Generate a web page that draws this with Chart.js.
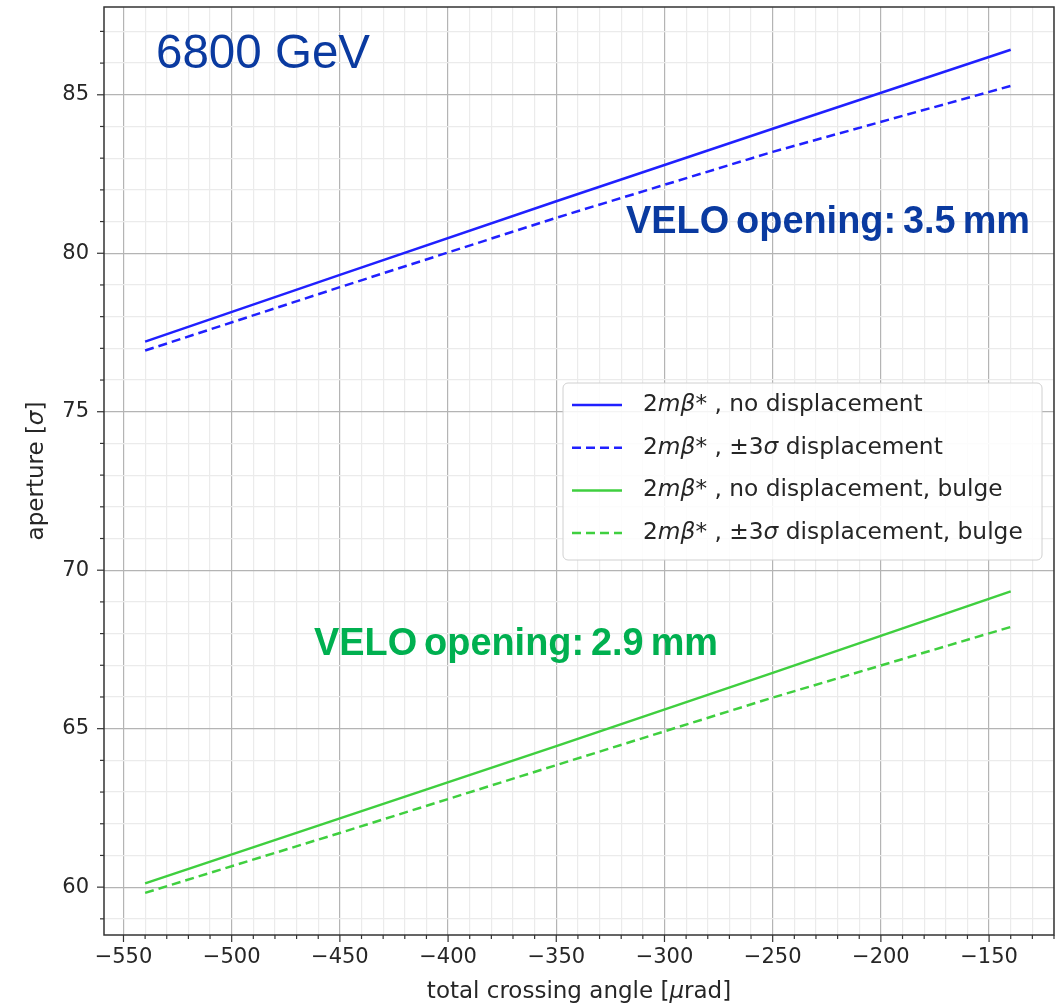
<!DOCTYPE html>
<html>
<head>
<meta charset="utf-8">
<script src="https://cdn.jsdelivr.net/npm/chart.js@4.4.1/dist/chart.umd.min.js"></script>
<style>
  html, body { margin: 0; padding: 0; background: #ffffff; }
  #wrap { width: 1064px; height: 1006px; }
</style>
</head>
<body>
<div id="wrap"><canvas id="c" width="1064" height="1006"></canvas></div>
<script>
// Total crossing angle [µrad] at which the aperture was read
const crossingAngle = [-540, -450, -350, -250, -140];

// Aperture [sigma] for each configuration
const apNoDisp        = [77.21, 79.32, 81.64, 83.93, 86.42];
const apDisp          = [76.93, 78.93, 81.12, 83.20, 85.28];
const apNoDispBulge   = [60.12, 62.17, 64.45, 66.76, 69.33];
const apDispBulge     = [59.82, 61.71, 63.85, 65.98, 68.21];

// Legend labels: [text, italic] pieces (mathtext style)
const labelNoDisp      = [['2', 0], ['mβ', 1], ['* , no displacement', 0]];
const labelDisp        = [['2', 0], ['mβ', 1], ['* , ±3', 0], ['σ', 1], [' displacement', 0]];
const labelNoDispBulge = [['2', 0], ['mβ', 1], ['* , no displacement, bulge', 0]];
const labelDispBulge   = [['2', 0], ['mβ', 1], ['* , ±3', 0], ['σ', 1], [' displacement, bulge', 0]];

// Axis ranges and tick steps
const xMin = -559, xMax = -120;
const yMin = 58.49, yMax = 87.77;
const xMajorStep = 50, xMinorStep = 10;
const yMajorStep = 5,  yMinorStep = 1;

const energyLabel = '6800 GeV';
const veloWide = 'VELO opening: 3.5 mm';
const veloNarrow = 'VELO opening: 2.9 mm';

const BLUE = '#2020ff';
const GREEN = '#3fcf3f';
const FONT = '"DejaVu Sans", "Liberation Sans", sans-serif';
const TXT = '#262626';

function joinParts(parts) { return parts.map(p => p[0]).join(''); }
function fmtTick(v) { return v < 0 ? '\u2212' + Math.abs(v) : String(v); }
function isMult(v, s) { return Math.abs(v / s - Math.round(v / s)) < 1e-6; }

function tickValues(lo, hi, step) {
  const out = [];
  const start = Math.ceil(lo / step - 1e-9) * step;
  for (let v = start; v <= hi + 1e-9; v += step) out.push(Math.round(v * 1000) / 1000);
  return out;
}

function partsWidth(ctx, parts, size) {
  let w = 0;
  parts.forEach(([t, it]) => { ctx.font = (it ? 'italic ' : '') + size + 'px ' + FONT; w += ctx.measureText(t).width; });
  return w;
}

function drawParts(ctx, parts, x, y, size) {
  let cx = x;
  parts.forEach(([t, it]) => {
    ctx.font = (it ? 'italic ' : '') + size + 'px ' + FONT;
    ctx.fillText(t, cx, y);
    cx += ctx.measureText(t).width;
  });
  return cx;
}

// Text fitted to a given width; words are set with a tight gap
function fittedText(ctx, text, x, y, width, font, color, wordGap) {
  ctx.save();
  ctx.font = font;
  ctx.fillStyle = color;
  ctx.textBaseline = 'alphabetic';
  ctx.textAlign = 'left';
  const words = text.split(' ');
  const gap = wordGap === undefined ? ctx.measureText(' ').width : wordGap;
  const widths = words.map(w => ctx.measureText(w).width);
  const total = widths.reduce((s, w) => s + w, 0) + gap * (words.length - 1);
  ctx.translate(x, y);
  ctx.scale(width / total, 1);
  let cx = 0;
  words.forEach((w, i) => { ctx.fillText(w, cx, 0); cx += widths[i] + gap; });
  ctx.restore();
}

const decorations = {
  id: 'decorations',
  afterDatasetsDraw(chart) {
    const ctx = chart.ctx;
    const a = chart.chartArea;
    const xs = chart.scales.x, ys = chart.scales.y;

    // frame
    ctx.save();
    ctx.strokeStyle = '#333333';
    ctx.lineWidth = 1.5;
    ctx.setLineDash([]);
    ctx.strokeRect(a.left, a.top, a.right - a.left, a.bottom - a.top);

    // tick marks (major long, minor short)
    ctx.lineWidth = 1.2;
    xs.ticks.forEach(t => {
      const px = xs.getPixelForValue(t.value);
      const len = isMult(t.value, xMajorStep) ? 7 : 4;
      ctx.beginPath(); ctx.moveTo(px, a.bottom); ctx.lineTo(px, a.bottom + len); ctx.stroke();
    });
    ys.ticks.forEach(t => {
      const py = ys.getPixelForValue(t.value);
      const len = isMult(t.value, yMajorStep) ? 7 : 4;
      ctx.beginPath(); ctx.moveTo(a.left, py); ctx.lineTo(a.left - len, py); ctx.stroke();
    });
    ctx.restore();

    // legend
    ctx.save();
    const lx = 563, ly = 383, lw = 479, lh = 177;
    ctx.beginPath();
    ctx.roundRect(lx, ly, lw, lh, 5);
    ctx.fillStyle = 'rgba(255,255,255,0.85)';
    ctx.fill();
    ctx.strokeStyle = '#d0d0d0';
    ctx.lineWidth = 1;
    ctx.stroke();
    const legendParts = [labelNoDisp, labelDisp, labelNoDispBulge, labelDispBulge];
    chart.data.datasets.forEach((ds, i) => {
      const y = 405 + i * 42.7;
      ctx.strokeStyle = ds.borderColor;
      ctx.lineWidth = ds.borderWidth;
      ctx.setLineDash(ds.borderDash || []);
      ctx.beginPath(); ctx.moveTo(572, y); ctx.lineTo(622, y); ctx.stroke();
      ctx.setLineDash([]);
      ctx.fillStyle = TXT;
      ctx.textBaseline = 'middle';
      ctx.textAlign = 'left';
      drawParts(ctx, legendParts[i], 643, y, 23.3);
    });
    ctx.restore();

    // annotations
    const arial = '"Liberation Sans", Arial, sans-serif';
    fittedText(ctx, energyLabel, 156, 68, 214, '49px ' + arial, '#0a3aa0');
    fittedText(ctx, veloWide, 626, 233, 404, 'bold 38px ' + arial, '#0a3aa0', 7);
    fittedText(ctx, veloNarrow, 314, 655, 404, 'bold 38px ' + arial, '#00b050', 7);

    // axis titles
    ctx.save();
    ctx.fillStyle = TXT;
    ctx.textBaseline = 'alphabetic';
    ctx.textAlign = 'left';
    const xParts = [['total crossing angle [', 0], ['μ', 1], ['rad]', 0]];
    const wx = partsWidth(ctx, xParts, 23);
    drawParts(ctx, xParts, (a.left + a.right) / 2 - wx / 2, 998, 23);

    const yParts = [['aperture [', 0], ['σ', 1], [']', 0]];
    const wy = partsWidth(ctx, yParts, 23);
    ctx.translate(43, (a.top + a.bottom) / 2);
    ctx.rotate(-Math.PI / 2);
    drawParts(ctx, yParts, -wy / 2, 0, 23);
    ctx.restore();
  }
};

const gridColor = (step) => (c) => (c.tick && isMult(c.tick.value, step)) ? '#b4b4b4' : '#ebebeb';

new Chart(document.getElementById('c'), {
  type: 'line',
  data: {
    datasets: [
      { label: joinParts(labelNoDisp), data: crossingAngle.map((x, i) => ({ x, y: apNoDisp[i] })),
        borderColor: BLUE, borderWidth: 2.5 },
      { label: joinParts(labelDisp), data: crossingAngle.map((x, i) => ({ x, y: apDisp[i] })),
        borderColor: BLUE, borderWidth: 2.5, borderDash: [9, 5] },
      { label: joinParts(labelNoDispBulge), data: crossingAngle.map((x, i) => ({ x, y: apNoDispBulge[i] })),
        borderColor: GREEN, borderWidth: 2.5 },
      { label: joinParts(labelDispBulge), data: crossingAngle.map((x, i) => ({ x, y: apDispBulge[i] })),
        borderColor: GREEN, borderWidth: 2.5, borderDash: [9, 5] }
    ]
  },
  options: {
    responsive: false,
    animation: false,
    devicePixelRatio: 1,
    elements: { point: { radius: 0 }, line: { tension: 0, fill: false } },
    layout: { padding: { left: 0, right: 10, top: 7, bottom: 0 } },
    plugins: { legend: { display: false }, tooltip: { enabled: false } },
    scales: {
      x: {
        type: 'linear', min: xMin, max: xMax,
        afterFit(s) { s.height = 71; s.paddingLeft = 0; s.paddingRight = 0; },
        afterBuildTicks(s) { s.ticks = tickValues(xMin, xMax, xMinorStep).map(v => ({ value: v })); },
        ticks: {
          autoSkip: false, maxRotation: 0, padding: 10, color: TXT,
          font: { family: FONT, size: 21 },
          callback: (v) => isMult(v, xMajorStep) && v >= -550 && v <= -150 ? fmtTick(v) : ''
        },
        grid: { color: gridColor(xMajorStep), lineWidth: 1.2, drawTicks: false },
        border: { display: false }
      },
      y: {
        type: 'linear', min: yMin, max: yMax,
        afterFit(s) { s.width = 104; s.paddingTop = 0; s.paddingBottom = 0; },
        afterBuildTicks(s) { s.ticks = tickValues(yMin, yMax, yMinorStep).map(v => ({ value: v })); },
        ticks: {
          autoSkip: false, padding: 15, color: TXT,
          font: { family: FONT, size: 21 },
          callback: (v) => isMult(v, yMajorStep) ? fmtTick(v) : ''
        },
        grid: { color: gridColor(yMajorStep), lineWidth: 1.2, drawTicks: false },
        border: { display: false }
      }
    }
  },
  plugins: [decorations]
});
</script>
</body>
</html>
